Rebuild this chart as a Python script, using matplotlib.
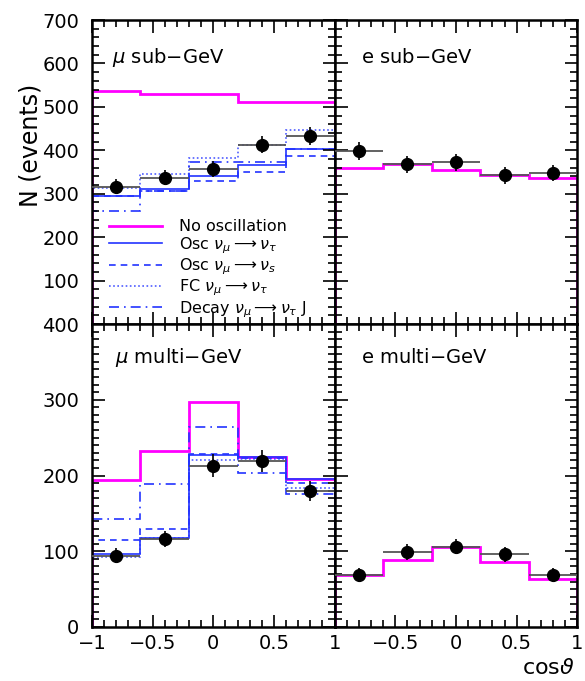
import numpy as np
import matplotlib.pyplot as plt
from matplotlib.ticker import MultipleLocator, FixedLocator, FuncFormatter

# ---------------------------------------------------------------------------
# Data
# ---------------------------------------------------------------------------
edges = [-1.0, -0.6, -0.2, 0.2, 0.6, 1.0]
centers = [-0.8, -0.4, 0.0, 0.4, 0.8]

mu_sub_data = [316, 337, 357, 413, 433]
mu_sub_err = [17, 18, 19, 20, 21]
mu_sub_noosc = [536, 530, 529, 511, 511]
mu_sub_tau = [294, 311, 341, 366, 402]
mu_sub_s = [294, 306, 329, 350, 388]
mu_sub_fc = [314, 346, 382, 413, 446]
mu_sub_decay = [261, 306, 372, 373, 402]

e_sub_data = [398, 368, 372, 342, 348]
e_sub_err = [20, 20, 20, 19, 19]
e_sub_noosc = [359, 368, 354, 342, 337]

mu_multi_data = [94, 116, 213, 219, 180]
mu_multi_err = [10, 11, 15, 15, 13]
mu_multi_noosc = [194, 232, 297, 225, 196]
mu_multi_tau = [96, 117, 227, 225, 195]
mu_multi_s = [115, 129, 229, 223, 190]
mu_multi_fc = [92, 117, 221, 222, 183]
mu_multi_decay = [142, 189, 264, 203, 176]

e_multi_data = [69, 99, 106, 96, 69]
e_multi_err = [9, 10, 10, 10, 9]
e_multi_noosc = [68, 88, 106, 86, 63]

MAG = '#ff00ff'
BLUE = '#2233ff'

plt.rcParams.update({
    'font.family': 'DejaVu Sans',
    'mathtext.fontset': 'dejavusans',
})

fig = plt.figure(figsize=(5.85, 6.81), dpi=100)
L, W = 0.157, 0.415
B_top, H_top = 0.5242, 0.4464
B_bot, H_bot = 0.0793, 0.4449

ax_ms = fig.add_axes([L, B_top, W, H_top])
ax_es = fig.add_axes([L + W, B_top, W, H_top])
ax_mm = fig.add_axes([L, B_bot, W, H_bot])
ax_em = fig.add_axes([L + W, B_bot, W, H_bot])


def xfmt(v, pos):
    s = f'{v:g}'
    return s.replace('-', '\u2212')


def style(ax, ymax, ymajor, yminor, show_y, show_x, ylabels=None):
    ax.set_xlim(-1, 1)
    ax.set_ylim(0, ymax)
    ax.xaxis.set_major_locator(MultipleLocator(0.5))
    ax.xaxis.set_minor_locator(MultipleLocator(0.1))
    ax.xaxis.set_major_formatter(FuncFormatter(xfmt))
    ax.yaxis.set_major_locator(MultipleLocator(ymajor))
    ax.yaxis.set_minor_locator(MultipleLocator(yminor))
    ax.tick_params(which='both', direction='in', top=True, right=True,
                   width=1.2, labelsize=14)
    ax.tick_params(which='major', length=9)
    ax.tick_params(which='minor', length=5)
    ax.tick_params(axis='y', pad=9)
    ax.tick_params(axis='x', pad=5)
    if ylabels is not None:
        ax.yaxis.set_major_locator(FixedLocator(ylabels))
        ax.yaxis.set_minor_locator(MultipleLocator(yminor))
    ax.tick_params(labelleft=show_y, labelbottom=show_x)
    for sp in ax.spines.values():
        sp.set_linewidth(1.8)


def draw_data(ax, y, err):
    ax.errorbar(centers, y, xerr=0.2, yerr=None, fmt='none',
                ecolor='#555555', elinewidth=1.3, zorder=4)
    ax.errorbar(centers, y, yerr=err, fmt='o', color='black',
                ecolor='black', elinewidth=1.2, markersize=8.5, zorder=5)


# mu sub-GeV
ax_ms.stairs(mu_sub_noosc, edges, color=MAG, lw=2, label='No oscillation')
ax_ms.stairs(mu_sub_tau, edges, color=BLUE, lw=1.2,
             label=r'Osc $\nu_\mu \longrightarrow \nu_\tau$')
ax_ms.stairs(mu_sub_s, edges, color=BLUE, lw=1.2, ls=(0, (4, 3)),
             label=r'Osc $\nu_\mu \longrightarrow \nu_s$')
ax_ms.stairs(mu_sub_fc, edges, color=BLUE, lw=1.2, ls=(0, (1, 1.5)), alpha=0.8,
             label=r'FC $\nu_\mu \longrightarrow \nu_\tau$')
ax_ms.stairs(mu_sub_decay, edges, color=BLUE, lw=1.2, ls=(0, (6, 3, 1, 3)),
             label=r'Decay $\nu_\mu \longrightarrow \nu_\tau$ J')
draw_data(ax_ms, mu_sub_data, mu_sub_err)
style(ax_ms, 700, 100, 20, True, False, ylabels=[100, 200, 300, 400, 500, 600, 700])
ax_ms.text(0.082, 0.878, r'$\mu$ sub$-$GeV', transform=ax_ms.transAxes,
           fontsize=14, va='center')
leg = ax_ms.legend(loc='upper left', bbox_to_anchor=(0.07, 0.345), frameon=False,
                   fontsize=11.5, handlelength=3.3, handletextpad=1.1,
                   labelspacing=0.05, borderpad=0, borderaxespad=0)

# e sub-GeV
ax_es.stairs(e_sub_noosc, edges, color=MAG, lw=2)
draw_data(ax_es, e_sub_data, e_sub_err)
style(ax_es, 700, 100, 20, False, False)
ax_es.text(0.11, 0.878, r'e sub$-$GeV', transform=ax_es.transAxes,
           fontsize=14, va='center')

# mu multi-GeV
ax_mm.stairs(mu_multi_noosc, edges, color=MAG, lw=2)
ax_mm.stairs(mu_multi_tau, edges, color=BLUE, lw=1.2)
ax_mm.stairs(mu_multi_s, edges, color=BLUE, lw=1.2, ls=(0, (4, 3)))
ax_mm.stairs(mu_multi_fc, edges, color=BLUE, lw=1.2, ls=(0, (1, 1.5)), alpha=0.8)
ax_mm.stairs(mu_multi_decay, edges, color=BLUE, lw=1.2, ls=(0, (6, 3, 1, 3)))
draw_data(ax_mm, mu_multi_data, mu_multi_err)
style(ax_mm, 400, 100, 10, True, True)
ax_mm.text(0.095, 0.89, r'$\mu$ multi$-$GeV', transform=ax_mm.transAxes,
           fontsize=14, va='center')

# e multi-GeV
ax_em.stairs(e_multi_noosc, edges, color=MAG, lw=2)
draw_data(ax_em, e_multi_data, e_multi_err)
style(ax_em, 400, 100, 10, False, True)
ax_em.xaxis.set_major_locator(FixedLocator([-0.5, 0, 0.5, 1]))
ax_em.text(0.107, 0.89, r'e multi$-$GeV', transform=ax_em.transAxes,
           fontsize=14, va='center')

fig.text(0.052, 1 - 145 / 681, 'N (events)', rotation=90, fontsize=17,
         ha='center', va='center')
fig.text(548 / 585, 1 - 668 / 681, r'cos$\vartheta$', fontsize=16,
         ha='center', va='center')

fig.savefig('out.png', dpi=100, facecolor='white')
